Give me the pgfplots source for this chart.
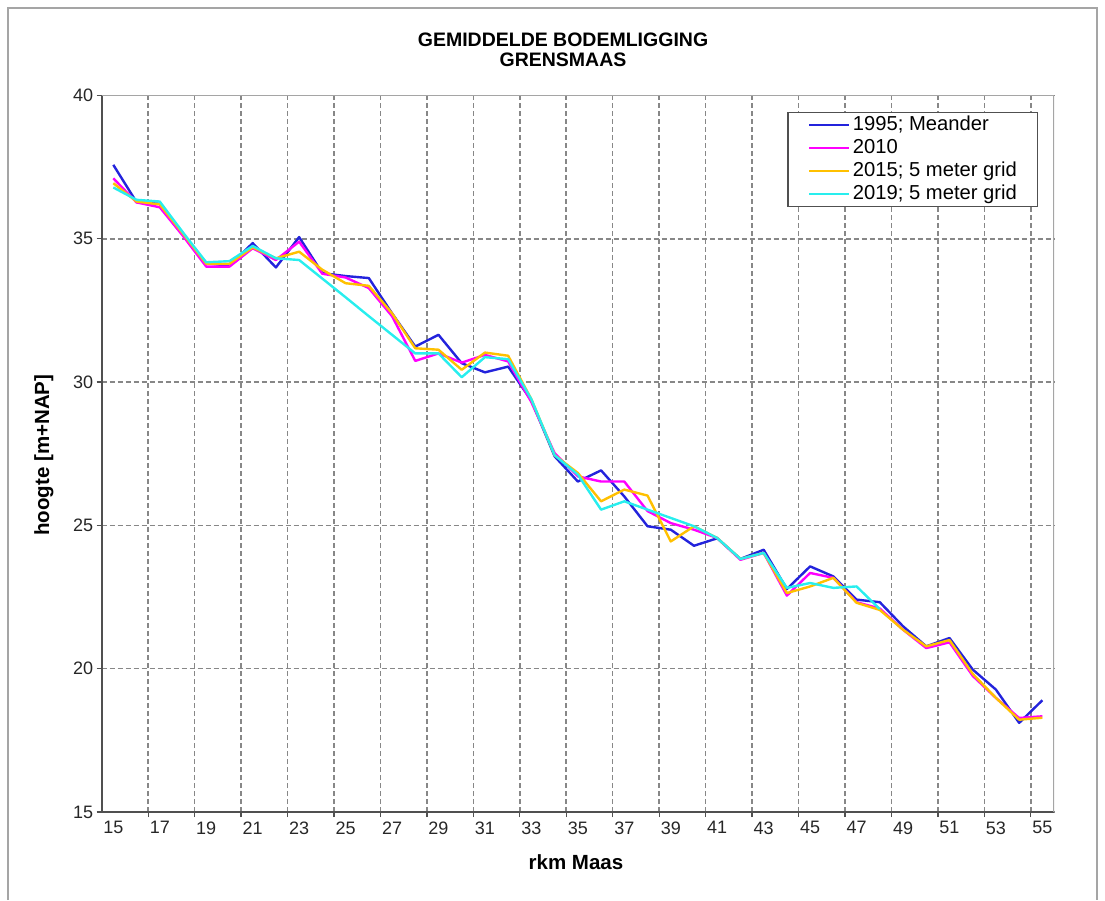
\documentclass[border=0pt]{standalone}
\usepackage{pgfplots}
\usepackage{pgfplotstable}
\pgfplotsset{compat=1.18}
\usepackage{fontspec}
\setmainfont{Liberation Sans}
\definecolor{sblue}{RGB}{35,35,220}
\definecolor{smag}{RGB}{255,0,255}
\definecolor{syel}{RGB}{255,192,0}
\definecolor{scyan}{RGB}{40,238,238}
\definecolor{gridgray}{RGB}{135,135,135}
\definecolor{framegray}{RGB}{165,165,165}
\definecolor{axisdark}{RGB}{80,80,80}

\pgfplotstableread{
km    b      m      y      c
15   37.58  37.11  36.94  36.79
16   36.28  36.27  36.30  36.36
17   36.22  36.10  36.20  36.30
18   35.15  35.10  35.18  35.22
19   34.15  34.03  34.13  34.18
20   34.06  34.03  34.13  34.22
21   34.85  34.67  34.70  34.75
22   34.00  34.26  34.32  34.32
23   35.06  34.90  34.55  34.26
24   33.80  33.78  33.92  33.61
25   33.70  33.65  33.45  32.96
26   33.63  33.28  33.36  32.30
27   32.40  32.30  32.40  31.65
28   31.24  30.74  31.18  31.00
29   31.65  31.00  31.13  31.00
30   30.66  30.68  30.43  30.17
31   30.34  30.95  31.03  30.87
32   30.54  30.72  30.92  30.80
33   29.35  29.30  29.40  29.40
34   27.41  27.52  27.45  27.45
35   26.53  26.71  26.83  26.77
36   26.92  26.53  25.84  25.55
37   26.01  26.53  26.25  25.84
38   24.97  25.50  26.04  25.55
39   24.85  25.08  24.44  25.26
40   24.29  24.85  24.97  24.97
41   24.55  24.56  24.56  24.56
42   23.83  23.80  23.83  23.83
43   24.15  24.04  24.04  24.04
44   22.78  22.55  22.64  22.82
45   23.57  23.34  22.87  22.99
46   23.22  23.17  23.17  22.82
47   22.41  22.32  22.30  22.87
48   22.32  22.10  22.05  22.08
49   21.48  21.36  21.36  nan
50   20.78  20.72  20.78  nan
51   21.07  20.92  21.00  nan
52   19.97  19.75  19.82  nan
53   19.27  18.98  18.98  nan
54   18.11  18.28  18.22  nan
55   18.90  18.34  18.29  nan
}\datatable

\begin{document}
\begin{tikzpicture}[x=1pt,y=1pt]
\useasboundingbox (0,0) rectangle (1105,900);
\draw[framegray, line width=1.2pt] (8,0) -- (8,892) -- (1097,892) -- (1097,0);
\node[font=\bfseries\fontsize{19.5}{20}\selectfont, align=center] at (563pt,850pt) {GEMIDDELDE BODEMLIGGING\\GRENSMAAS};
\begin{axis}[
  at={(101.7pt,88pt)}, anchor=south west, scale only axis,
  width=952.3pt, height=716.5pt,
  xmin=14.5, xmax=55.5, ymin=15, ymax=40,
  axis lines*=left,
  axis line style={axisdark, line width=1.6pt},
  xtick={16.5,18.5,...,54.5}, xticklabels={},
  extra x ticks={15,17,...,55},
  extra x tick labels={15,17,19,21,23,25,27,29,31,33,35,37,39,41,43,45,47,49,51,53,55},
  extra x tick style={grid=none, major tick length=0pt},
  ytick={15,20,...,40},
  xmajorgrids, ymajorgrids,
  grid style={gridgray, dash pattern=on 5pt off 3pt, line width=1.5pt},
  tick align=outside, major tick length=5pt,
  tick style={axisdark, line width=1.3pt},
  tick label style={font=\fontsize{18}{20}\selectfont, text=black!85},
  /pgf/number format/assume math mode=true,
  xticklabel style={yshift=-6pt},
  yticklabel style={xshift=0pt},
  xlabel={rkm Maas}, ylabel={hoogte [m+NAP]},
  label style={font=\bfseries\fontsize{20.5}{22}\selectfont},
  xlabel style={at={(axis description cs:0.498,-0.0698)}, anchor=center},
  ylabel style={at={(axis description cs:-0.0607,0.498)}, anchor=center, rotate=0},
  legend cell align=left,
  legend style={at={(0.9832,0.977)}, anchor=north east, draw=axisdark, line width=1.2pt,
    fill=white, font=\fontsize{20.2}{22}\selectfont, row sep=0pt,
    inner xsep=18pt, inner ysep=1pt,
    nodes={inner sep=2.5pt, text height=14pt, text depth=4pt}},
  legend image code/.code={\path (0pt,0pt); \draw[#1] (2pt,0pt) -- (42pt,0pt);},
]
\addplot[sblue, line width=2.4pt, line join=round] table[x=km, y=b] {\datatable};
\addlegendentry{1995; Meander}
\addplot[smag, line width=2.4pt, line join=round] table[x=km, y=m] {\datatable};
\addlegendentry{2010}
\addplot[syel, line width=2.4pt, line join=round] table[x=km, y=y] {\datatable};
\addlegendentry{2015; 5 meter grid}
\addplot[scyan, line width=2.4pt, line join=round] table[x=km, y=c] {\datatable};
\addlegendentry{2019; 5 meter grid}
\draw[framegray, line width=1.3pt] (rel axis cs:0,1) -- (rel axis cs:1,1) -- (rel axis cs:1,0);
\end{axis}
\end{tikzpicture}
\end{document}
